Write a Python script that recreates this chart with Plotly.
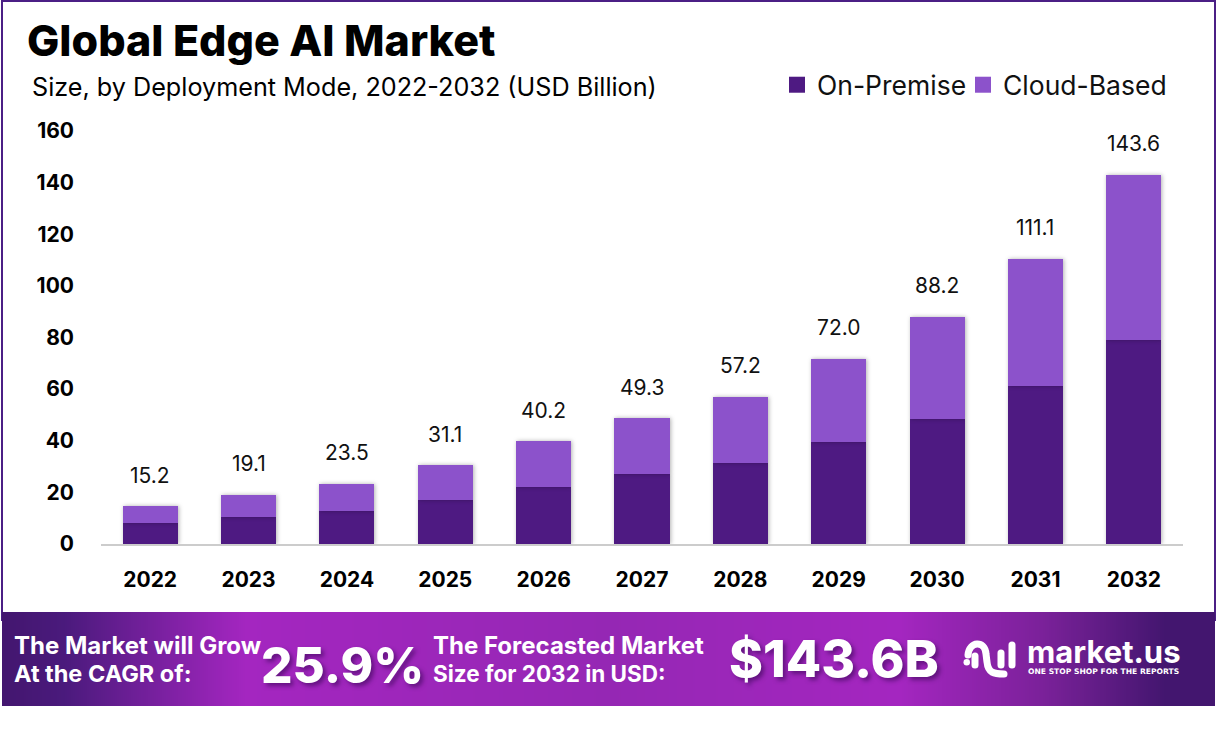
import plotly.graph_objects as go

W, H = 1217, 744
years = ["2022","2023","2024","2025","2026","2027","2028","2029","2030","2031","2032"]
on_premise = [8.1,10.5,12.8,17.0,22.0,27.0,31.4,39.5,48.4,61.2,79.0]
cloud_based = [6.6,8.6,10.5,13.6,17.9,21.8,25.6,32.2,39.6,49.3,64.0]
totals = [15.2,19.1,23.5,31.1,40.2,49.3,57.2,72.0,88.2,111.1,143.6]
y_ticks = [0,20,40,60,80,100,120,140,160]
C_ON, C_CLOUD, C_FRAME = "#4E1A82", "#8C52CB", "#4B1F85"
FONT = "Inter"

def px(x): return x / W
def py(y): return 1 - y / H

fig = go.Figure()
fig.add_bar(x=years, y=on_premise, marker=dict(color=C_ON, line_width=0), width=0.56, showlegend=False, hoverinfo="skip")
fig.add_bar(x=years, y=cloud_based, marker=dict(color=C_CLOUD, line_width=0), width=0.56, showlegend=False, hoverinfo="skip")
for name, c, lg in [("On-Premise", C_ON, "legend"), ("Cloud-Based", C_CLOUD, "legend2")]:
    fig.add_scatter(x=[years[0]], y=[None], mode="markers", name=name, legend=lg,
                    marker=dict(symbol="square", size=16, color=c))

# banner gradient
n = 600
stops = [[0,"#43166F"],[0.05,"#4A1A7C"],[0.2,"#A426C0"],[0.5,"#9527B4"],[0.74,"#A426C0"],[0.86,"#7A2199"],[0.96,"#43166F"],[1,"#43166F"]]
fig.add_heatmap(z=[list(range(n))], colorscale=stops, showscale=False, xaxis="x2", yaxis="y2", hoverinfo="skip")

ann = []
def text(s, x, y, size, anchor="left", weight=400, color="#000", shadow=None, family=FONT):
    f = dict(family=family, size=size, color=color, weight=weight)
    if shadow: f["shadow"] = shadow
    ann.append(dict(text=s, x=px(x), y=py(y), xref="paper", yref="paper", xanchor=anchor, yanchor="middle",
                    showarrow=False, font=f, borderpad=0))

for i, (t, a, b) in enumerate(zip(totals, on_premise, cloud_based)):
    ann.append(dict(text=f"{t:.1f}", x=i, y=a+b, xref="x", yref="y", yanchor="middle", xanchor="center",
                    yshift=31, showarrow=False, font=dict(family=FONT, size=21, color="#111")))

text("Global Edge AI Market", 26, 40, 43, weight=800)
text("Size, by Deployment Mode, 2022-2032 (USD Billion)", 31, 87, 25.2)
W_ = "#FFFFFF"
text("The Market will Grow", 13, 645, 24, weight=700, color=W_)
text("At the CAGR of:", 13, 673, 23.5, weight=700, color=W_)
text("25.9%", 260, 665, 49.5, weight=800, color=W_, shadow="3px 3px 4px rgba(40,0,70,.5)")
text("The Forecasted Market", 432, 645, 24, weight=700, color=W_)
text("Size for 2032 in USD:", 432, 673, 22.5, weight=700, color=W_)
text("$143.6B", 728, 658, 51.5, weight=800, color=W_, shadow="3px 3px 4px rgba(40,0,70,.5)")
text("market.us", 1026, 651, 31, weight=700, color=W_)
text("ONE STOP SHOP FOR THE REPORTS", 1027, 671, 7.6, weight=700, color=W_, family="DejaVu Sans")

shapes = [
    dict(type="rect", xref="paper", yref="paper", x0=px(2), x1=px(1215), y0=py(1), y1=py(620),
         line=dict(color=C_FRAME, width=2), fillcolor="rgba(0,0,0,0)", layer="below"),
]
def path(d):
    out = []
    for tok in d.split():
        if "," in tok:
            a, b = tok.split(",")
            out.append(f"{px(float(a)):.5f},{py(float(b)):.5f}")
        else:
            out.append(tok)
    return " ".join(out)
for d in ["M 968,655 C 969,641 985,640 986,654 L 987,662 C 988,673 994,674 1004,674",
          "M 975,656 L 975,665", "M 1001,653 L 1001,665", "M 1012,645 L 1012,665"]:
    shapes.append(dict(type="path", xref="paper", yref="paper", path=path(d),
                       line=dict(color="white", width=7), fillcolor="rgba(0,0,0,0)"))
shapes.append(dict(type="circle", xref="paper", yref="paper", x0=px(963.5), x1=px(970), y0=py(659), y1=py(665.5),
                   fillcolor="white", line=dict(width=0)))

def legend_at(x):
    return dict(orientation="h", x=px(x), y=py(85), xanchor="left", yanchor="middle",
                font=dict(family=FONT, size=26.5, color="#111"), itemsizing="trace", itemwidth=30,
                bgcolor="rgba(0,0,0,0)", itemclick=False, itemdoubleclick=False)

fig.update_layout(
    width=W, height=H, margin=dict(l=0, r=0, t=0, b=0, autoexpand=False), barmode="stack",
    paper_bgcolor="white", plot_bgcolor="white", font=dict(family=FONT),
    xaxis=dict(domain=[px(101), px(1183)], type="category", categoryorder="array", categoryarray=years,
               range=[-0.5, 10.5], showgrid=False, showline=True, linecolor="#CCCCCC", linewidth=2, ticks="",
               ticklabelstandoff=16, tickfont=dict(family=FONT, size=21, color="#000", weight=700),
               anchor="y", fixedrange=True),
    yaxis=dict(domain=[py(544), py(131)], range=[0,160], tickvals=y_ticks, showgrid=False, zeroline=False,
               ticks="", ticklabelstandoff=26, showline=False,
               tickfont=dict(family=FONT, size=21, color="#000", weight=700), fixedrange=True),
    xaxis2=dict(domain=[px(2), px(1215)], visible=False, anchor="y2", range=[-0.5, n-0.5], fixedrange=True),
    yaxis2=dict(domain=[py(706), py(612)], visible=False, anchor="x2", range=[-0.5, 0.5], fixedrange=True),
    legend=legend_at(777), legend2=legend_at(963),
    annotations=ann, shapes=shapes,
)
fig.write_html("out.html", config=dict(displayModeBar=False),
               post_script="document.body.style.margin='0';document.documentElement.style.overflow='hidden';"
                           "document.querySelectorAll('.barlayer .point path').forEach(function(p){p.style.filter='drop-shadow(1px 0 2px rgba(0,0,0,.3))';});"
                           "document.querySelectorAll('.shapelayer path').forEach(function(p){p.style.strokeLinecap='round';});")
